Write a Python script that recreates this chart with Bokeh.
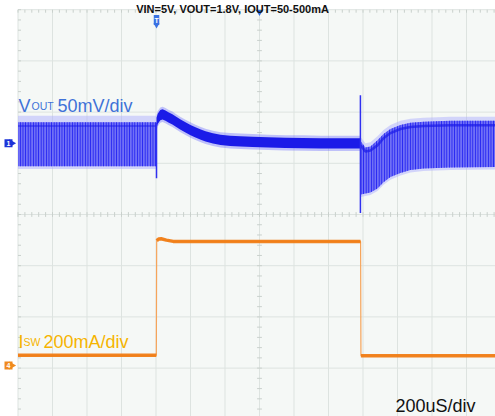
import numpy as np
from bokeh.plotting import figure
from bokeh.models import Range1d, Label
from bokeh.embed import file_html
from bokeh.resources import INLINE

# ---------------- data ----------------
TIME_PER_DIV_US = 200          # 200uS/div
VOUT_MV_PER_DIV = 50           # 50mV/div
ISW_MA_PER_DIV = 200           # 200mA/div
N_HDIV = 14
N_VDIV = 8
CH1_OFFSET_DIV = 1.39          # Vout reference marker (divisions above centre)
CH4_OFFSET_DIV = -2.95         # Isw reference marker
TRIGGER_T = -597               # us

# Vout, light load (before load step): envelope in mV
light1_t = [-1400, -597]
light1_hi = [20.5, 20.5]
light1_dark = [17.0, 17.0]
light1_lo = [-22.5, -22.5]
light1_spk_hi = [27.0, 27.0]
light1_spk_lo = [-25.0, -25.0]

# Vout, heavy load: centre of the trace in mV
heavy_t = [-597, -590, -575, -562, -545, -528, -505, -487, -460, -429, -400, -371,
           -340, -313, -270, -226, -170, -110, -40, 50, 150, 250, 354, 450, 583]
heavy_mv = [20.0, 24.0, 27.5, 28.3, 27.0, 25.4, 23.5, 21.5, 18.5, 15.6, 13.0, 10.7,
            8.5, 6.8, 4.8, 3.4, 2.5, 2.0, 1.5, 1.0, 0.5, 0.3, 0.0, 0.0, 0.0]

# Vout, light load again (after load release): envelope in mV
light2_t = [587, 614, 643, 684, 719, 759, 817, 875, 951, 1107, 1368]
light2_dark = [-2.0, -8.0, -7.0, -2.0, 5.0, 10.0, 14.0, 16.0, 17.0, 17.6, 17.6]
light2_hi = [2.0, -4.0, -3.0, 3.0, 9.0, 14.0, 18.0, 20.0, 21.0, 22.0, 22.0]
light2_lo = [-50.0, -49.0, -48.0, -44.0, -38.0, -33.0, -29.0, -26.0, -24.5, -23.5, -23.0]

# load-step spikes on Vout (t, mV from, mV to)
spike_t = [-597, 585]
spike_top = [20.0, 47.0]
spike_bot = [-34.0, -68.0]

# Isw (mA)
isw_low1_t = [-1400, -598]
isw_low1 = [40, 40]
isw_high_t = [-596, -585, -570, -540, -500, 300, 586]
isw_high = [488, 494, 495, 490, 485, 485, 485]
isw_low2_t = [588, 1368]
isw_low2 = [38, 38]

TITLE = "VIN=5V, VOUT=1.8V, IOUT=50-500mA"

# ---------------- layout constants (page pixels) ----------------
W, H = 495, 416
CX, CY = 259.0, 214.0          # graticule centre on the page
DX, DY = 34.5, 51.2            # pixels per division


def px_t(px):
    return (px - CX) * TIME_PER_DIV_US / DX


def py_d(py):
    return (CY - py) / DY


X0, X1 = px_t(0), px_t(W)
Y0, Y1 = py_d(H), py_d(0)
T_MIN = -N_HDIV / 2 * TIME_PER_DIV_US
T_MAX = N_HDIV / 2 * TIME_PER_DIV_US
D_MIN, D_MAX = -N_VDIV / 2, N_VDIV / 2

p = figure(width=W, height=H, output_backend="svg", toolbar_location=None,
           x_range=Range1d(X0, X1), y_range=Range1d(Y0, Y1),
           x_axis_location=None, y_axis_location=None, min_border=0)
p.grid.visible = False
p.outline_line_color = None
p.background_fill_color = "white"
p.border_fill_color = "white"

p.extra_y_ranges = {
    "v": Range1d((Y0 - CH1_OFFSET_DIV) * VOUT_MV_PER_DIV, (Y1 - CH1_OFFSET_DIV) * VOUT_MV_PER_DIV),
    "i": Range1d((Y0 - CH4_OFFSET_DIV) * ISW_MA_PER_DIV, (Y1 - CH4_OFFSET_DIV) * ISW_MA_PER_DIV),
}

# ---------------- graticule ----------------
p.quad(left=[T_MIN], right=[T_MAX], bottom=[D_MIN], top=[D_MAX],
       fill_color="#f5f8f6", line_color=None)
GRID = "#dde3e0"
vx = np.arange(T_MIN, T_MAX + 1, TIME_PER_DIV_US)
p.segment(x0=vx, y0=D_MIN, x1=vx, y1=D_MAX, line_color=GRID, line_width=1)
hy = np.arange(D_MIN, D_MAX + 0.01, 1.0)
p.segment(x0=T_MIN, y0=hy, x1=T_MAX, y1=hy, line_color=GRID, line_width=1)

TICK = "#c9d0cc"
mt = np.arange(T_MIN, T_MAX + 1, TIME_PER_DIV_US / 5)
md = np.arange(D_MIN, D_MAX + 0.01, 0.2)
tl_d = 3.0 / DY
tl_t = 3.0 * TIME_PER_DIV_US / DX
# centre cross ticks
p.segment(x0=mt, y0=-tl_d * 0.8, x1=mt, y1=tl_d * 0.8, line_color=TICK, line_width=1)
p.segment(x0=-tl_t * 0.8, y0=md, x1=tl_t * 0.8, y1=md, line_color=TICK, line_width=1)
# edge rulers
p.segment(x0=mt, y0=D_MAX, x1=mt, y1=D_MAX - tl_d, line_color=TICK, line_width=1)
p.segment(x0=mt, y0=D_MIN, x1=mt, y1=D_MIN + tl_d, line_color=TICK, line_width=1)
p.segment(x0=T_MIN, y0=md, x1=T_MIN + tl_t, y1=md, line_color=TICK, line_width=1)

# ---------------- Vout trace ----------------
BLUE_CORE = "#1b1be8"
BLUE_HATCH = "#2424f2"
BLUE_FILL = "#7070f6"
BLUE_HALO = "#a8a8ff"

p.varea(x=light1_t, y1=light1_spk_lo, y2=light1_spk_hi, fill_color=BLUE_HALO,
        fill_alpha=0.45, y_range_name="v")
p.varea(x=light1_t, y1=light1_lo, y2=light1_hi, fill_color=BLUE_FILL,
        hatch_pattern="vertical_line", hatch_color=BLUE_HATCH, hatch_scale=2.6,
        hatch_weight=1.1, y_range_name="v")
p.line(x=light1_t, y=light1_dark, line_color=BLUE_CORE, line_width=2, line_alpha=0.45,
       y_range_name="v")

hm = np.array(heavy_mv)
p.varea(x=heavy_t, y1=hm - 7.5, y2=hm + 7.5, fill_color="#6f6fff", fill_alpha=0.4,
        y_range_name="v")
p.varea(x=heavy_t, y1=hm - 5.0, y2=hm + 5.0, fill_color=BLUE_CORE, y_range_name="v")

l2lo = np.array(light2_lo)
l2hi = np.array(light2_hi)
p.varea(x=light2_t, y1=l2lo - 2.5, y2=l2hi + 4.0, fill_color=BLUE_HALO, fill_alpha=0.45,
        y_range_name="v")
p.varea(x=light2_t, y1=light2_lo, y2=light2_hi, fill_color=BLUE_FILL,
        hatch_pattern="vertical_line", hatch_color=BLUE_HATCH, hatch_scale=2.6,
        hatch_weight=1.1, y_range_name="v")
p.line(x=light2_t, y=light2_dark, line_color=BLUE_CORE, line_width=2.5, line_alpha=0.7,
       y_range_name="v")

p.segment(x0=spike_t, y0=spike_bot, x1=spike_t, y1=spike_top, line_color="#3030f0",
          line_width=1.5, y_range_name="v")

# ---------------- Isw trace ----------------
ORANGE = "#f07d16"
edge_t = isw_low1_t + isw_high_t + isw_low2_t
edge_v = isw_low1 + isw_high + isw_low2
p.line(x=edge_t, y=edge_v, line_color="#f6a45a", line_width=1.2, y_range_name="i")
for tt, vv in ((isw_low1_t, isw_low1), (isw_high_t, isw_high), (isw_low2_t, isw_low2)):
    p.line(x=tt, y=vv, line_color=ORANGE, line_width=3.5, line_alpha=0.95, y_range_name="i")

# ---------------- channel / trigger markers ----------------
mx = px_t(8)
p.scatter(x=[mx], y=[CH1_OFFSET_DIV], marker="square", size=8, fill_color="#1c33d8",
          line_color=None)
p.scatter(x=[px_t(11)], y=[CH1_OFFSET_DIV], marker="triangle", angle=-np.pi / 2, size=8,
          fill_color="#1c33d8", line_color=None)
p.text(x=[mx], y=[CH1_OFFSET_DIV], text=["1"], text_color="white", text_font_size="7px",
       text_font_style="bold", text_align="center", text_baseline="middle")
p.scatter(x=[mx], y=[CH4_OFFSET_DIV], marker="square", size=8, fill_color="#f08a1e",
          line_color=None)
p.scatter(x=[px_t(11)], y=[CH4_OFFSET_DIV], marker="triangle", angle=-np.pi / 2, size=8,
          fill_color="#f08a1e", line_color=None)
p.text(x=[mx], y=[CH4_OFFSET_DIV], text=["4"], text_color="white", text_font_size="7px",
       text_font_style="bold", text_align="center", text_baseline="middle")

p.rect(x=[TRIGGER_T], y=[py_d(19.5)], width=5.5, height=10, width_units="screen",
       height_units="screen", fill_color="#3a72e2", line_color=None)
p.scatter(x=[TRIGGER_T], y=[py_d(24.5)], marker="inverted_triangle", size=6,
          fill_color="#3a72e2", line_color=None)
p.text(x=[TRIGGER_T], y=[py_d(19.5)], text=["T"], text_color="white", text_font_size="7px",
       text_font_style="bold", text_align="center", text_baseline="middle")
p.scatter(x=[0], y=[py_d(11.5)], marker="inverted_triangle", size=7,
          fill_color="#2f6ee0", line_color=None)

# ---------------- texts ----------------
FONT = "Liberation Sans"
VCOL = "#3f72d8"
ICOL = "#f5b400"
for txt, x, size in (("V", 18, "18px"), ("OUT", 31, "10.5px"), ("50mV/div", 57, "18px")):
    p.add_layout(Label(x=px_t(x), y=py_d(105), text=txt, text_font=FONT,
                       text_font_size=size, text_color=VCOL, text_baseline="alphabetic"))
for txt, x, size in (("I", 18, "18px"), ("SW", 23, "10.5px"), ("200mA/div", 43, "18px")):
    p.add_layout(Label(x=px_t(x), y=py_d(341), text=txt, text_font=FONT,
                       text_font_size=size, text_color=ICOL, text_baseline="alphabetic"))
p.add_layout(Label(x=px_t(395), y=py_d(405), text="200uS/div", text_font=FONT,
                   text_font_size="18px", text_color="#111111", text_baseline="alphabetic"))
p.add_layout(Label(x=px_t(232), y=py_d(8), text=TITLE,
                   text_font=FONT, text_font_style="bold",
                   text_font_size="11px", text_color="#111111",
                   text_align="center", text_baseline="alphabetic"))

open("out.html", "w").write(file_html(p, INLINE))
